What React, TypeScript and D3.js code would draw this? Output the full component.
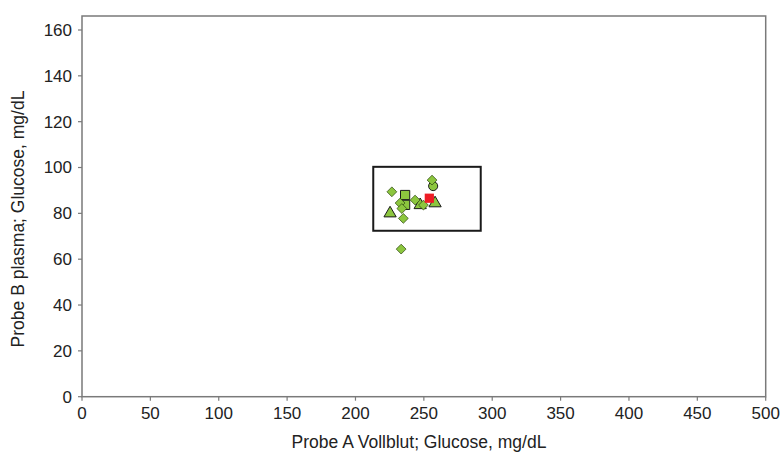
import * as d3 from "d3";

const xTicks = [0, 50, 100, 150, 200, 250, 300, 350, 400, 450, 500];
const yTicks = [0, 20, 40, 60, 80, 100, 120, 140, 160];

// green markers
const diamonds = [
  { x: 226.6, y: 89.4 },
  { x: 232.6, y: 84.5 },
  { x: 233.9, y: 82.1 },
  { x: 235, y: 77.8 },
  { x: 243.6, y: 85.8 },
  { x: 249.7, y: 83.6 },
  { x: 256, y: 94.5 },
  { x: 233.4, y: 64.4 },
];
const squares = [
  { x: 236.3, y: 88.0 },
  { x: 236.3, y: 83.7 },
];
const triangles = [
  { x: 225.3, y: 80.0 },
  { x: 247.3, y: 83.6 },
  { x: 258.2, y: 84.4 },
];
const circles = [{ x: 256.8, y: 91.9 }];
const redSquares = [{ x: 254, y: 86.6 }];

// target box
const box = { x0: 213, x1: 291.6, y0: 72.4, y1: 100.3 };

export default function App() {
  const width = 781;
  const height = 453;
  const left = 82;
  const right = 765.7;
  const top = 16;
  const bottom = 396.7;

  const x = d3.scaleLinear([0, 500], [left, right]);
  const y = d3.scaleLinear([0, 160], [bottom, 30]);

  const green = "#8cc63e";
  const font = "Liberation Sans, Arial, sans-serif";

  const sym = (type: d3.SymbolType, size: number) => d3.symbol(type, size)() as string;

  return (
    <svg width={width} height={height} style={{ position: "absolute", left: 0, top: 0 }} fontFamily={font}>
      <rect x={0} y={0} width={width} height={height} fill="white" />
      <rect x={left} y={top} width={right - left} height={bottom - top} fill="none" stroke="#7a7a7a" strokeWidth={1.5} />
      {xTicks.map((t) => (
        <g key={"x" + t}>
          <line x1={x(t)} x2={x(t)} y1={bottom} y2={bottom + 4} stroke="#7a7a7a" strokeWidth={1.2} />
          <text x={x(t)} y={bottom + 22} fontSize={17} textAnchor="middle" fill="#222">{t}</text>
        </g>
      ))}
      {yTicks.map((t) => (
        <g key={"y" + t}>
          <line x1={left - 4} x2={left} y1={y(t)} y2={y(t)} stroke="#7a7a7a" strokeWidth={1.2} />
          <text x={left - 10} y={y(t)} dy="0.35em" fontSize={17} textAnchor="end" fill="#222">{t}</text>
        </g>
      ))}
      <text x={419} y={448} fontSize={17.5} textAnchor="middle" fill="#222">
        Probe A Vollblut; Glucose, mg/dL
      </text>
      <text transform={`translate(24,219) rotate(-90)`} fontSize={17.5} textAnchor="middle" fill="#222">
        Probe B plasma; Glucose, mg/dL
      </text>

      <rect
        x={x(box.x0)}
        y={y(box.y1)}
        width={x(box.x1) - x(box.x0)}
        height={y(box.y0) - y(box.y1)}
        fill="none"
        stroke="#1a1a1a"
        strokeWidth={2}
      />

      <g fill={green} stroke="#1a1a1a" strokeWidth={1}>
        {circles.map((d, i) => (
          <path key={"c" + i} transform={`translate(${x(d.x)},${y(d.y)})`} d={sym(d3.symbolCircle, 65)} />
        ))}
        {squares.map((d, i) => (
          <path key={"s" + i} transform={`translate(${x(d.x)},${y(d.y)})`} d={sym(d3.symbolSquare, 85)} />
        ))}
        {triangles.map((d, i) => (
          <path key={"t" + i} transform={`translate(${x(d.x)},${y(d.y)})`} d={sym(d3.symbolTriangle, 65)} />
        ))}
        {diamonds.map((d, i) => (
          <path key={"d" + i} transform={`translate(${x(d.x)},${y(d.y)}) rotate(45)`} d={sym(d3.symbolSquare, 48)} stroke="#2f4a12" strokeWidth={0.7} />
        ))}
      </g>
      <g fill="#ee1c25">
        {redSquares.map((d, i) => (
          <path key={"r" + i} transform={`translate(${x(d.x)},${y(d.y)})`} d={sym(d3.symbolSquare, 85)} />
        ))}
      </g>
    </svg>
  );
}
